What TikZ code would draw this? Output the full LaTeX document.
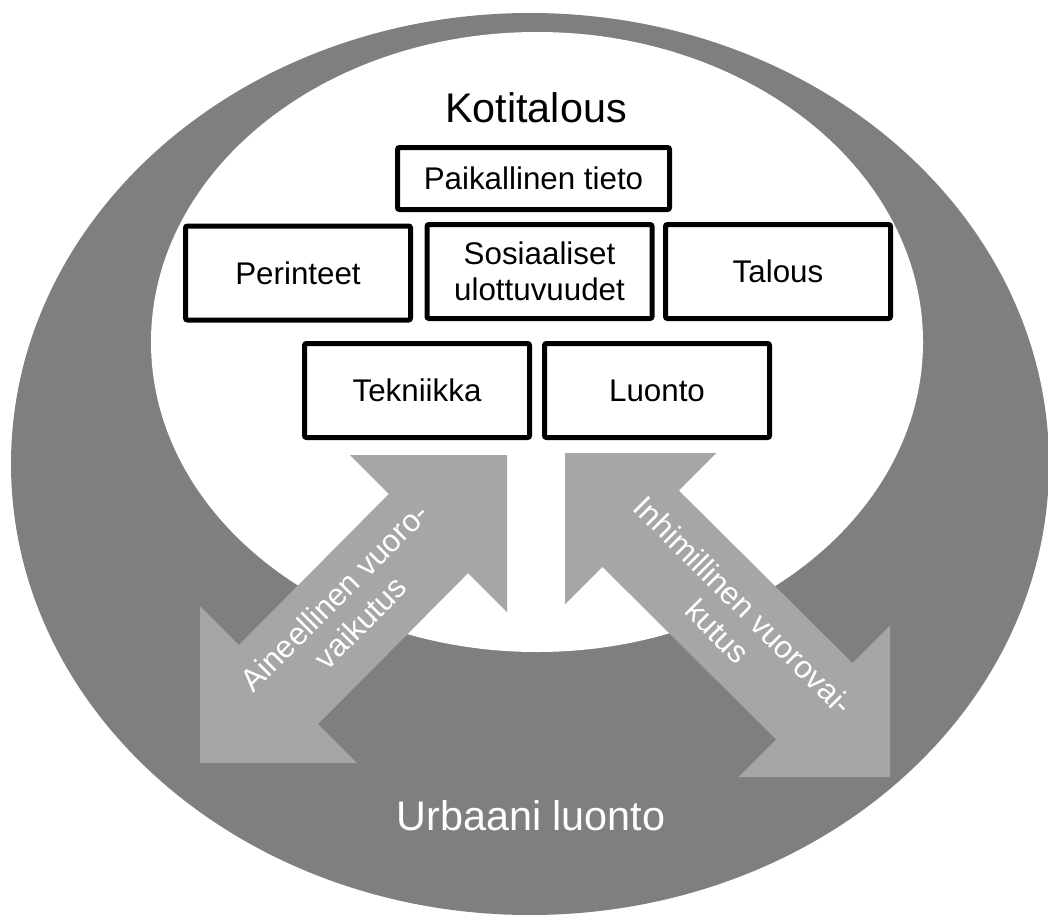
\documentclass[tikz,border=0pt]{standalone}
\usepackage{fontspec}
\setmainfont{Liberation Sans}
\usetikzlibrary{positioning}

\definecolor{ringgray}{RGB}{127,127,127}
\definecolor{arrowgray}{RGB}{166,166,166}

\begin{document}
\begin{tikzpicture}[x=0.75pt, y=-0.75pt,
		factorbox/.style={draw=black, line width=3.75pt, rounded corners=1.5pt, fill=white,
			minimum width=168.75pt, minimum height=70.5pt, inner sep=0pt, align=center,
			font=\fontsize{23.5}{27}\selectfont},
		arrowtext/.style={text=white, align=center, inner sep=0pt,
			font=\fontsize{23.5}{27.5}\selectfont},
		bigtitle/.style={inner sep=0pt, font=\fontsize{31}{36}\selectfont}]
			\useasboundingbox (0,0) rectangle (1048,914);
			
			% Rings
			\fill[ringgray] (530,464) ellipse [x radius=519, y radius=451];
			\fill[white] (537,342) ellipse [x radius=386, y radius=310];
			
			% Interaction arrows
			\fill[arrowgray] (507,455) -- (350,455) -- (388.9,493.9) -- (238.9,644.9) -- (200,606)
				-- (200,763) -- (357,763) -- (318.1,724.1) -- (468.1,573.1) -- (507,612) -- cycle;
			\fill[arrowgray] (565,453) -- (716.4,453) -- (678.9,490.5) -- (852.5,663.1) -- (890,625.6)
				-- (890,777) -- (738.6,777) -- (776.1,739.5) -- (602.5,566.9) -- (565,604.4) -- cycle;
			\node[arrowtext, rotate=45] (aineellinen) at (347.5,609.5) {Aineellinen vuoro-\\vaikutus};
			\node[arrowtext, rotate=-45] (inhimillinen) at (730.6,618.4) {Inhimillinen vuorovai-\\kutus};
			
			% Titles
			\node[bigtitle] (kotitalous) at (536,108) {Kotitalous};
			\node[bigtitle, text=white] (urbaani) at (531,816) {Urbaani luonto};
			
			% Factors
			\node[factorbox, minimum width=204pt, minimum height=46.5pt] (paikallinen) at (533.5,178.5) {Paikallinen tieto};
			\node[factorbox] (perinteet) at (298,273) {Perinteet};
			\node[factorbox] (sosiaaliset) at (539.5,271.5) {Sosiaaliset\\ulottuvuudet};
			\node[factorbox] (talous) at (778,271.5) {Talous};
			\node[factorbox] (tekniikka) at (417,390.5) {Tekniikka};
			\node[factorbox] (luonto) at (657,390.5) {Luonto};
		\end{tikzpicture}
\end{document}
